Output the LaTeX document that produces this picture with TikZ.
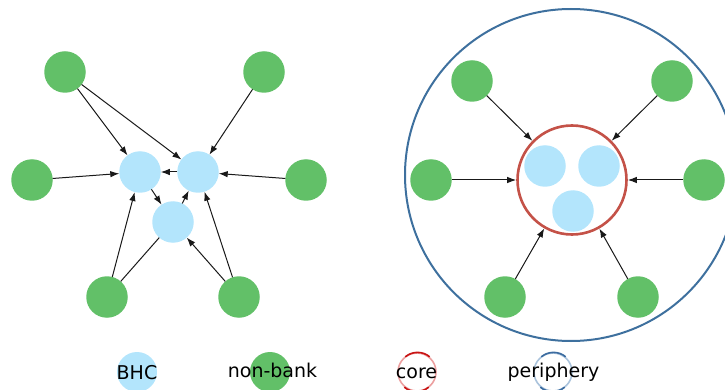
\documentclass[tikz,border=0pt]{standalone}
\usepackage{fontspec}
\setmainfont{DejaVu Sans}
\usetikzlibrary{arrows.meta}
\definecolor{bhcblue}{RGB}{179,229,252}
\definecolor{nbgreen}{RGB}{98,192,104}
\definecolor{corered}{RGB}{196,82,72}
\definecolor{peri}{RGB}{62,112,158}
\definecolor{legred}{RGB}{200,20,20}
\definecolor{legredlt}{RGB}{236,160,160}
\definecolor{legblue}{RGB}{60,108,160}
\definecolor{legbluelt}{RGB}{170,195,220}
\definecolor{ink}{RGB}{25,25,25}
\tikzset{
  bhc/.style={circle,fill=bhcblue,draw=none,minimum size=41.5pt,inner sep=0pt,outer sep=0pt},
  nonbank/.style={circle,fill=nbgreen,draw=none,minimum size=41.5pt,inner sep=0pt,outer sep=0pt},
  link/.style={draw=ink,line width=1pt,-{Latex[length=9pt,width=6.5pt]}},
  plainlink/.style={draw=ink,line width=1pt},
  legtext/.style={anchor=base,inner sep=0pt,font=\fontsize{19}{23}\selectfont,text=black}
}
\begin{document}
\begin{tikzpicture}[x=1pt,y=-1pt]
\useasboundingbox (0,0) rectangle (725,390);
\clip (0,0) rectangle (725,390);

% ---- interconnected network ----
\node[bhc] (b1) at (140,172) {};
\node[bhc] (b2) at (198,172) {};
\node[bhc] (b3) at (173,222) {};
\node[nonbank] (g1) at (65,72) {};
\node[nonbank] (g2) at (264,72) {};
\node[nonbank] (g3) at (32,180) {};
\node[nonbank] (g4) at (306,180) {};
\node[nonbank] (g5) at (107,297) {};
\node[nonbank] (g6) at (239,297) {};

\draw[link] (g1) -- (b1);
\draw[link] (g1) -- (b2);
\draw[link] (g2) -- (b2);
\draw[link] (g3) -- (b1);
\draw[link] (g4) -- (b2);
\draw[link] (b2) -- (b1);
\draw[link] (b1) -- (b3);
\draw[link] (b3) -- (b2);
\draw[link] (g5) -- (b1);
\draw[plainlink] (g5) -- (b3);
\draw[link] (g6) -- (b3);
\draw[link] (g6) -- (b2);

% ---- core-periphery network ----
\node[circle,draw=peri,line width=2pt,minimum size=332pt,inner sep=0pt] (per) at (571,175) {};
\node[circle,draw=corered,line width=2.6pt,minimum size=109pt,inner sep=0pt] (core) at (572,180) {};
\node[bhc] (c1) at (545,166) {};
\node[bhc] (c2) at (599,166) {};
\node[bhc] (c3) at (573,211) {};
\node[nonbank] (p1) at (472,81) {};
\node[nonbank] (p2) at (672,81) {};
\node[nonbank] (p3) at (431,180) {};
\node[nonbank] (p4) at (704,180) {};
\node[nonbank] (p5) at (505,297) {};
\node[nonbank] (p6) at (638,297) {};
\foreach \p in {p1,p2,p3,p4,p5,p6}
  \draw[link] (\p) -- (core);

% ---- legend ----
\node[bhc,minimum size=40pt] (kb) at (137,372) {};
\node[legtext] (tb) at (137,379.3) {BHC};
\node[nonbank,minimum size=40pt] (kg) at (270,372) {};
\node[legtext] (tg) at (272.5,377.6) {non-bank};
\node[circle,draw=legredlt,line width=1.6pt,minimum size=38pt,inner sep=0pt] (kc) at (417,372) {};
\draw[legred,line width=1.6pt] (kc.50) arc[start angle=50,end angle=130,radius=19pt];
\draw[legred,line width=1.6pt] (kc.230) arc[start angle=230,end angle=310,radius=19pt];
\node[legtext] (tc) at (416.5,378) {core};
\node[circle,draw=legbluelt,line width=1.6pt,minimum size=38pt,inner sep=0pt] (kp) at (553,372) {};
\draw[legblue,line width=1.6pt] (kp.50) arc[start angle=50,end angle=130,radius=19pt];
\draw[legblue,line width=1.6pt] (kp.230) arc[start angle=230,end angle=310,radius=19pt];
\node[legtext] (tp) at (553.5,377.6) {periphery};
\end{tikzpicture}
\end{document}
